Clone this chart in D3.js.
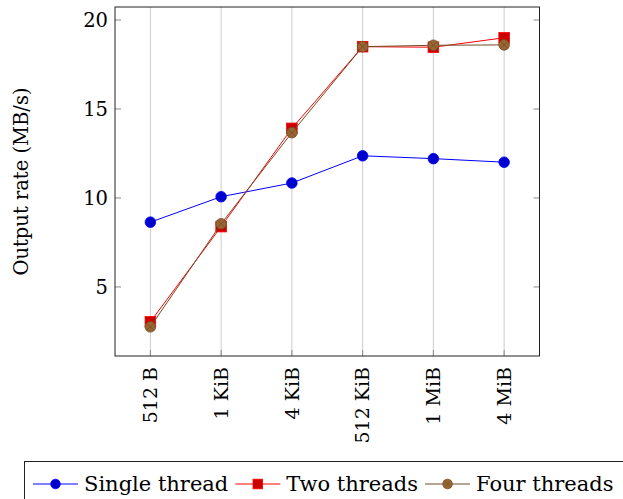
<!DOCTYPE html>
<html>
<head>
<meta charset="utf-8">
<script src="https://cdn.jsdelivr.net/npm/d3@7"></script>
<style>
  body { margin: 0; background: #fff; }
  text { font-family: "DejaVu Serif", serif; fill: #000; }
</style>
</head>
<body>
<script>
// Data
var sizes = ["512 B", "1 KiB", "4 KiB", "512 KiB", "1 MiB", "4 MiB"];
var single = [8.64, 10.07, 10.84, 12.37, 12.21, 12.01];
var two = [3.04, 8.39, 13.91, 18.5, 18.47, 19.0];
var four = [2.76, 8.55, 13.67, 18.5, 18.58, 18.6];
var yTicks = [5, 10, 15, 20];

var series = [
  {name: "Single thread", values: single, line: "#0000ff", fill: "#0000cc", mark: "circle"},
  {name: "Two threads", values: two, line: "#ff0000", fill: "#cc0000", mark: "square"},
  {name: "Four threads", values: four, line: "#734d26", fill: "#996633", mark: "otimes"}
];

var svg = d3.select("body")
            .append("svg")
            .attr("width", 623)
            .attr("height", 499);

var box = {left: 115, right: 539.5, top: 7, bottom: 356};

var x = d3.scalePoint().domain(sizes).range([box.left, box.right]).padding(0.5);
var y = d3.scaleLinear().domain([1.12, 20.73]).range([box.bottom, box.top]);

// Vertical grid lines
svg.append("g").selectAll("line")
  .data(sizes)
  .enter().append("line")
  .attr("x1", function(d) { return x(d); })
  .attr("x2", function(d) { return x(d); })
  .attr("y1", box.top)
  .attr("y2", box.bottom)
  .attr("stroke", "#cccccc")
  .attr("stroke-width", 1);

// ticks, drawn inside the frame
var tickG = svg.append("g");
yTicks.forEach(function(t) {
  tickG.append("line")
    .attr("x1", box.left).attr("x2", box.left + 6)
    .attr("y1", y(t)).attr("y2", y(t))
    .attr("stroke", "#888").attr("stroke-width", 1);
  tickG.append("line")
    .attr("x1", box.right - 6).attr("x2", box.right)
    .attr("y1", y(t)).attr("y2", y(t))
    .attr("stroke", "#888").attr("stroke-width", 1);
});
sizes.forEach(function(s) {
  tickG.append("line")
    .attr("x1", x(s)).attr("x2", x(s))
    .attr("y1", box.bottom - 6).attr("y2", box.bottom)
    .attr("stroke", "#888").attr("stroke-width", 1);
});

// y tick labels
svg.append("g").selectAll("text")
  .data(yTicks)
  .enter().append("text")
  .attr("x", box.left - 7)
  .attr("y", function(d) { return y(d); })
  .attr("dy", "0.36em")
  .attr("text-anchor", "end")
  .style("font-size", "19.5px")
  .text(function(d) { return d; });

// x tick labels, rotated
svg.append("g").selectAll("text")
  .data(sizes)
  .enter().append("text")
  .attr("transform", function(d) { return "translate(" + x(d) + "," + (box.bottom + 11) + ") rotate(-90)"; })
  .attr("dy", "0.36em")
  .attr("text-anchor", "end")
  .style("font-size", "19px")
  .text(function(d) { return d; });

// y-axis label
svg.append("text")
  .attr("transform", "translate(28," + ((box.top + box.bottom) / 2) + ") rotate(-90)")
  .attr("text-anchor", "middle")
  .style("font-size", "19.5px")
  .text("Output rate (MB/s)");

// Lines
var line = d3.line()
  .x(function(d, i) { return x(sizes[i]); })
  .y(function(d) { return y(d); });

function drawMark(g, s, cx, cy, r) {
  if (s.mark === "circle") {
    g.append("circle").attr("cx", cx).attr("cy", cy).attr("r", r)
      .attr("fill", s.fill).attr("stroke", s.line).attr("stroke-width", 0.8);
  } else if (s.mark === "square") {
    g.append("rect").attr("x", cx - r).attr("y", cy - r)
      .attr("width", 2 * r).attr("height", 2 * r)
      .attr("fill", s.fill).attr("stroke", s.line).attr("stroke-width", 0.8);
  } else {
    g.append("circle").attr("cx", cx).attr("cy", cy).attr("r", r)
      .attr("fill", s.fill).attr("stroke", s.line).attr("stroke-width", 0.8);
    var d = r * Math.SQRT1_2;
    g.append("path")
      .attr("d", "M" + (cx - d) + "," + (cy - d) + "L" + (cx + d) + "," + (cy + d) +
                 "M" + (cx - d) + "," + (cy + d) + "L" + (cx + d) + "," + (cy - d))
      .attr("stroke", s.line).attr("stroke-width", 0.8);
  }
}

series.forEach(function(s) {
  svg.append("path")
    .datum(s.values)
    .attr("d", line)
    .attr("fill", "none")
    .attr("stroke", s.line)
    .attr("stroke-width", 1);
  var g = svg.append("g");
  s.values.forEach(function(v, i) { drawMark(g, s, x(sizes[i]), y(v), 5.3); });
});

// Frame
svg.append("rect")
  .attr("x", box.left).attr("y", box.top)
  .attr("width", box.right - box.left).attr("height", box.bottom - box.top)
  .attr("fill", "none").attr("stroke", "#222").attr("stroke-width", 1);

// Legend
var legend = svg.append("g");
legend.append("rect")
  .attr("x", 24.5).attr("y", 461.5)
  .attr("width", 640).attr("height", 60)
  .attr("fill", "#fff").attr("stroke", "#222").attr("stroke-width", 1);

var lx = 33;
series.forEach(function(s) {
  legend.append("line")
    .attr("x1", lx).attr("x2", lx + 45)
    .attr("y1", 484).attr("y2", 484)
    .attr("stroke", s.line).attr("stroke-width", 1);
  drawMark(legend, s, lx + 22.5, 484, 4.8);
  var t = legend.append("text")
    .attr("x", lx + 51)
    .attr("y", 491)
    .style("font-size", "21px")
    .text(s.name);
  lx = lx + 51 + t.node().getComputedTextLength() + 7;
});
</script>
</body>
</html>
